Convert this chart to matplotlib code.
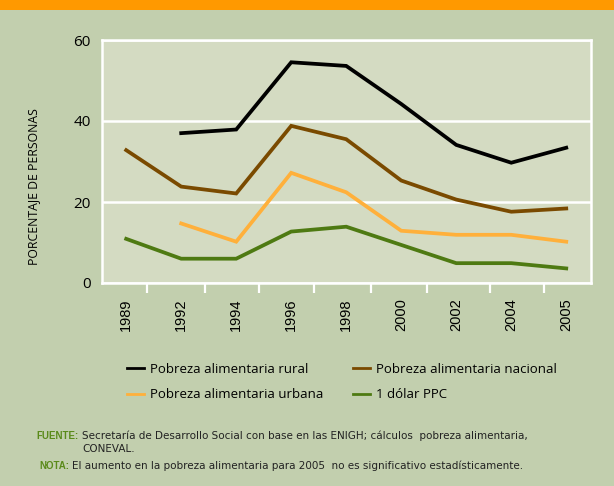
import matplotlib
matplotlib.use("Agg")
import matplotlib.pyplot as plt
from matplotlib.lines import Line2D
from matplotlib.patches import Rectangle
import numpy as np

years = ["1989", "1992", "1994", "1996", "1998", "2000", "2002", "2004", "2005"]
rural = [None, 37.0, 37.9, 54.5, 53.6, 44.2, 34.1, 29.7, 33.4]
nacional = [32.8, 23.8, 22.1, 38.8, 35.5, 25.3, 20.6, 17.6, 18.4]
urbana = [None, 14.7, 10.2, 27.2, 22.4, 12.9, 11.9, 11.9, 10.2]
dolar = [10.9, 6.0, 6.0, 12.7, 13.9, 9.4, 4.9, 4.9, 3.6]
yticks = [0, 20, 40, 60]

labels = ["Pobreza alimentaria rural", "Pobreza alimentaria urbana",
          "Pobreza alimentaria nacional", "1 dólar PPC"]
colors = ["#000000", "#FFB03B", "#7A4A00", "#4E7A12"]

FONT = ["Open Sans", "DejaVu Sans"]
plt.rcParams["font.family"] = FONT

fig = plt.figure(figsize=(6.14, 4.86), dpi=100)
fig.patch.set_facecolor("#C2CFAE")
fig.add_artist(Rectangle((0, 1 - 10 / 486), 1, 10 / 486, transform=fig.transFigure,
                         facecolor="#FF9900", edgecolor="none"))

ax = fig.add_axes([102 / 614, 1 - 283 / 486, (591 - 102) / 614, (283 - 40) / 486])
ax.set_facecolor("#D4DBC2")

x = np.arange(len(years))

def series(vals):
    return np.array([np.nan if v is None else v for v in vals], dtype=float)

for vals, col in [(rural, colors[0]), (nacional, colors[2]), (urbana, colors[1]), (dolar, colors[3])]:
    ax.plot(x, series(vals), color=col, lw=2.7, solid_joinstyle="miter", zorder=3)

ax.set_xlim(-0.44, 8.45)
ax.set_ylim(0, 60)
ax.set_yticks(yticks)
ax.set_yticklabels([str(v) for v in yticks], fontsize=11)
ax.tick_params(axis="y", length=0, pad=8)
ax.set_xticks(x)
ax.set_xticklabels(years, rotation=90, fontsize=10.5, family=["Liberation Sans", "DejaVu Sans"])
ax.tick_params(axis="x", which="major", length=0, pad=11)
ax.set_xticks([0.38, 1.44, 2.41, 3.42, 4.45, 5.47, 6.62, 7.59], minor=True)
ax.tick_params(axis="x", which="minor", length=7, width=1.6, color="white", direction="out")

for s in ax.spines.values():
    s.set_color("white")
    s.set_linewidth(1.8)
ax.grid(axis="y", color="white", lw=1.8, zorder=1)
ax.set_axisbelow(True)

ax.set_ylabel("PORCENTAJE DE PERSONAS", fontsize=8.8)
ax.yaxis.set_label_coords((40 - 102) / 489, (283 - 187) / 243)

handles = [Line2D([], [], color=c, lw=2) for c in colors]
fig.legend(handles, labels, ncol=2, loc="upper left",
           bbox_to_anchor=(115 / 614, 1 - 351 / 486), frameon=False, fontsize=9.5,
           handlelength=1.3, handletextpad=0.45, columnspacing=2.25, labelspacing=0.95)

green = "#5A8A1A"
nfont = ["Liberation Sans Narrow", "DejaVu Sans"]
bfont = ["Liberation Sans", "DejaVu Sans"]
fig.text(79 / 614, 1 - 436 / 486, "FUENTE:", color=green, fontsize=7, fontweight="bold",
         family=bfont, va="center", ha="right")
fig.text(82 / 614, 1 - 436 / 486,
         "Secretaría de Desarrollo Social con base en las ENIGH; cálculos  pobreza alimentaria,",
         color="#222222", fontsize=7.5, family=nfont, va="center")
fig.text(82 / 614, 1 - 449 / 486, "CONEVAL.", color="#222222", fontsize=7.5, family=nfont, va="center")
fig.text(69 / 614, 1 - 466 / 486, "NOTA:", color=green, fontsize=7, fontweight="bold",
         family=bfont, va="center", ha="right")
fig.text(72 / 614, 1 - 466 / 486,
         "El aumento en la pobreza alimentaria para 2005  no es significativo estadísticamente.",
         color="#222222", fontsize=7.5, family=nfont, va="center")

fig.savefig("out.png", dpi=100, facecolor=fig.get_facecolor())
